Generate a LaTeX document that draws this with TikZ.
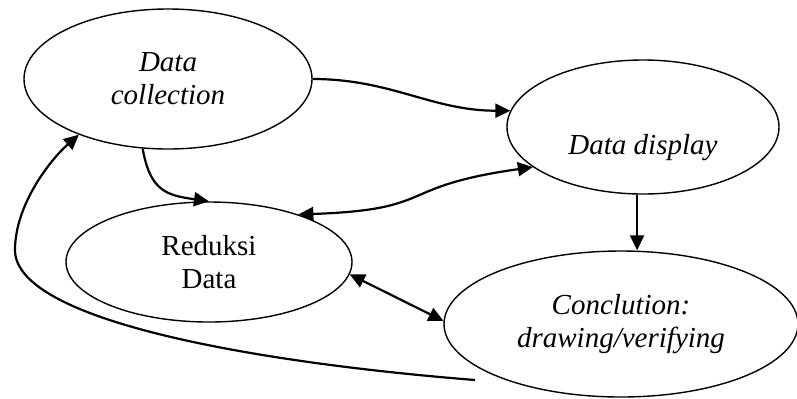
\documentclass[tikz,border=0pt]{standalone}
\usepackage{fontspec}
\setmainfont{Liberation Serif}
\usetikzlibrary{arrows.meta,shapes.geometric}

\tikzset{
  oval/.style={ellipse, draw, line width=0.7pt, inner sep=0pt, align=center,
    font=\fontsize{14.5}{16.5}\selectfont},
  ovalit/.style={oval, font=\fontsize{14.5}{16.5}\selectfont\itshape},
  link/.style={line width=1.1pt},
  >={Triangle[length=7.5pt,width=7pt]}
}

\begin{document}
\begin{tikzpicture}[x=0.5pt,y=-0.5pt]
\useasboundingbox (0,0) rectangle (797,398);

% the four stages
\node[ovalit, minimum width=144pt, minimum height=70pt] (dcol) at (168,79) {Data\\collection};
\node[ovalit, minimum width=136pt, minimum height=67pt,
  label={[yshift=-10.5pt, font=\fontsize{14.5}{16.5}\selectfont\itshape]center:Data display}] (ddis) at (643,127) {};
\node[oval, minimum width=143pt, minimum height=60pt] (red) at (209,262) {Reduksi\\Data};
\node[ovalit, minimum width=177pt, minimum height=73pt] (conc) at (621,324) {Conclution:\\drawing/verifying};
\coordinate (back) at (475,380);

% links
\draw[link,->] (dcol.east) to[out=0,in=180] (ddis.173);
\draw[link,->] (dcol.-110) to[out=-80,in=172,looseness=1.3] (red.north);
\draw[link,<->] (red.28) to[out=2,in=188,looseness=1.5] (ddis.-160);
\draw[link,->] (ddis.-95) -- (ddis.-95 |- conc.north);
\draw[link,<->] (red.-5) -- (conc.179);
\draw[link,->] (back) .. controls (250,362) and (15,320) .. (15,250)
  .. controls (15,205) and (50,160) .. (dcol.212);
\end{tikzpicture}
\end{document}
